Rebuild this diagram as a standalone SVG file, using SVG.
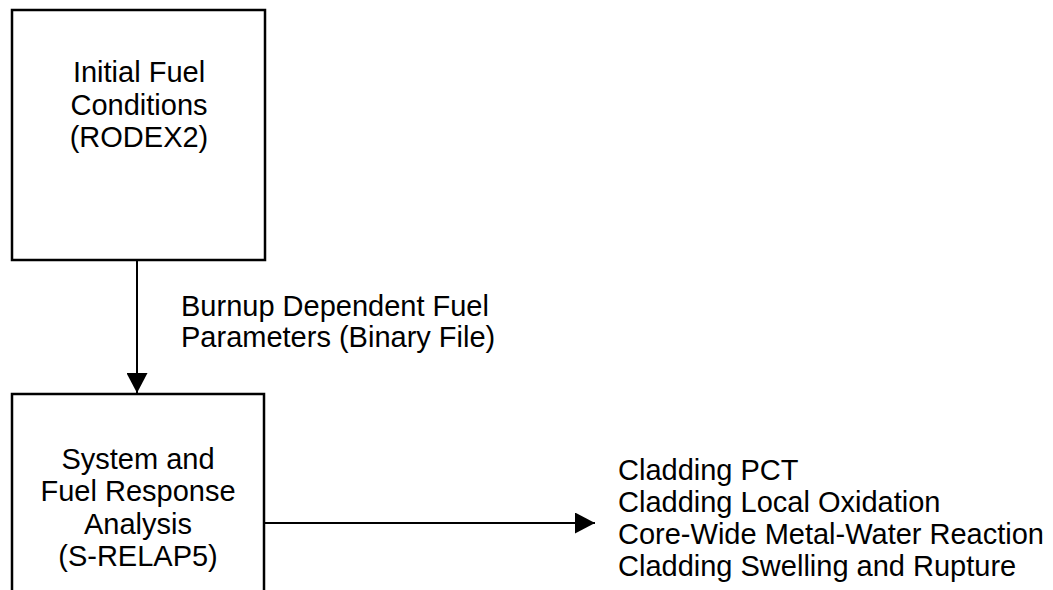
<svg xmlns="http://www.w3.org/2000/svg" width="1053" height="590" viewBox="0 0 1053 590">
  <style>
    .box { fill: #ffffff; stroke: #000000; stroke-width: 2.5; }
    .t { font-family: "Liberation Sans", Arial, sans-serif; font-size: 29px; fill: #000000; }
    .c { text-anchor: middle; }
    .edge { stroke: #000000; stroke-width: 2; fill: none; }
  </style>
  <defs>
    <marker id="arrow" markerWidth="20" markerHeight="21" refX="20" refY="10.5" orient="auto" markerUnits="userSpaceOnUse">
      <path d="M0,0 L20,10.5 L0,21 Z" fill="#000000"/>
    </marker>
  </defs>
  <rect width="1053" height="590" fill="#ffffff"/>
  <g id="node-rodex2">
    <rect class="box" x="12" y="10" width="253" height="250"/>
    <text class="t c" x="139" y="82">Initial Fuel</text>
    <text class="t c" x="139" y="115">Conditions</text>
    <text class="t c" x="139" y="147">(RODEX2)</text>
  </g>
  <g id="node-srelap5">
    <rect class="box" x="12" y="394" width="252" height="210"/>
    <text class="t c" x="138" y="469">System and</text>
    <text class="t c" x="138" y="501">Fuel Response</text>
    <text class="t c" x="138" y="534">Analysis</text>
    <text class="t c" x="138" y="566">(S-RELAP5)</text>
  </g>
  <g id="node-outputs">
    <text class="t" x="618" y="480">Cladding PCT</text>
    <text class="t" x="618" y="512">Cladding Local Oxidation</text>
    <text class="t" x="618" y="544">Core-Wide Metal-Water Reaction</text>
    <text class="t" x="618" y="576">Cladding Swelling and Rupture</text>
  </g>
  <g id="connectors">
    <line class="edge" x1="137" y1="260" x2="137" y2="393" marker-end="url(#arrow)"/>
    <text class="t" x="181" y="316">Burnup Dependent Fuel</text>
    <text class="t" x="181" y="347">Parameters (Binary File)</text>
    <line class="edge" x1="264" y1="523" x2="595" y2="523" marker-end="url(#arrow)"/>
  </g>
</svg>
